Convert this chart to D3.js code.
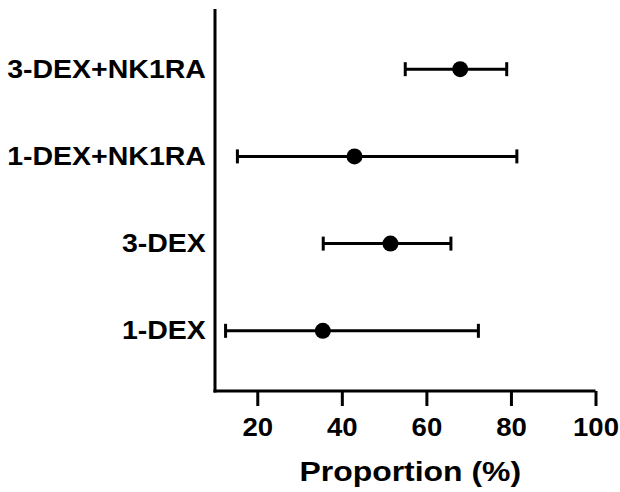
<!DOCTYPE html>
<html>
<head>
<meta charset="utf-8">
<script src="https://cdn.jsdelivr.net/npm/d3@7"></script>
<style>
  body { margin: 0; background: #fff; }
  svg { display: block; }
</style>
</head>
<body>
<svg></svg>
<script>
// groups, bottom to top
const groups = ["1-DEX", "3-DEX", "1-DEX+NK1RA", "3-DEX+NK1RA"];
const means = [35.5, 51.5, 43, 68];
const lows = [12.5, 35.6, 15.3, 55];
const highs = [72.3, 65.8, 81.4, 79];
const xTicks = [20, 40, 60, 80, 100];

const data = groups.map((g, i) => ({ group: g, mean: means[i], low: lows[i], high: highs[i] }));

var svgWidth = 620,
    svgHeight = 492;

var svg = d3.select("svg")
    .attr("width", svgWidth)
    .attr("height", svgHeight);

var plotLeft = 215, plotRight = 595.5, plotTop = 9, plotBottom = 391;

var x = d3.scaleLinear()
    .domain([10, 100])
    .range([plotLeft, plotRight]);

var y = d3.scalePoint()
    .domain(groups)
    .range([plotBottom, plotTop])
    .padding(0.69);

var font = "'Liberation Sans', Arial, sans-serif";

// x axis
var xAxis = svg.append("g")
    .attr("transform", "translate(0," + plotBottom + ")")
    .call(d3.axisBottom(x).tickValues(xTicks).tickSize(15).tickPadding(12).tickSizeOuter(0));

xAxis.select(".domain")
    .attr("stroke", "#000")
    .attr("stroke-width", 3)
    .attr("d", "M" + (plotLeft - 1.5) + ",0H" + plotRight);

xAxis.selectAll(".tick line")
    .attr("stroke", "#000")
    .attr("stroke-width", 3);

xAxis.selectAll(".tick text")
    .attr("font-family", font)
    .attr("font-weight", "bold")
    .attr("font-size", 26)
    .attr("fill", "#000")
    .attr("transform", "scale(1.06,1)");

// y axis, no ticks
var yAxis = svg.append("g")
    .attr("transform", "translate(" + plotLeft + ",0)")
    .call(d3.axisLeft(y).tickSize(0).tickPadding(8));

yAxis.select(".domain")
    .attr("stroke", "#000")
    .attr("stroke-width", 3)
    .attr("d", "M0," + plotTop + "V" + (plotBottom + 1.5));

yAxis.selectAll(".tick text")
    .attr("font-family", font)
    .attr("font-weight", "bold")
    .attr("font-size", 25)
    .attr("fill", "#000")
    .attr("transform", "scale(1.14,1)");

// axis title
var titleX = (plotLeft + plotRight) / 2 + 5;
svg.append("text")
    .attr("x", titleX)
    .attr("y", 481)
    .attr("text-anchor", "middle")
    .attr("font-family", font)
    .attr("font-weight", "bold")
    .attr("font-size", 28)
    .attr("transform-origin", titleX + " 481")
    .attr("transform", "scale(1.14,1)")
    .text("Proportion (%)");

// error bars
var bars = svg.append("g")
    .selectAll("g")
    .data(data)
    .enter()
    .append("g");

bars.append("line")
    .attr("x1", d => x(d.low))
    .attr("x2", d => x(d.high))
    .attr("y1", d => y(d.group))
    .attr("y2", d => y(d.group))
    .attr("stroke", "#000")
    .attr("stroke-width", 3);

bars.append("line")
    .attr("x1", d => x(d.low))
    .attr("x2", d => x(d.low))
    .attr("y1", d => y(d.group) - 7)
    .attr("y2", d => y(d.group) + 7)
    .attr("stroke", "#000")
    .attr("stroke-width", 3);

bars.append("line")
    .attr("x1", d => x(d.high))
    .attr("x2", d => x(d.high))
    .attr("y1", d => y(d.group) - 7)
    .attr("y2", d => y(d.group) + 7)
    .attr("stroke", "#000")
    .attr("stroke-width", 3);

bars.append("circle")
    .attr("cx", d => x(d.mean))
    .attr("cy", d => y(d.group))
    .attr("r", 8)
    .attr("fill", "#000");
</script>
</body>
</html>
